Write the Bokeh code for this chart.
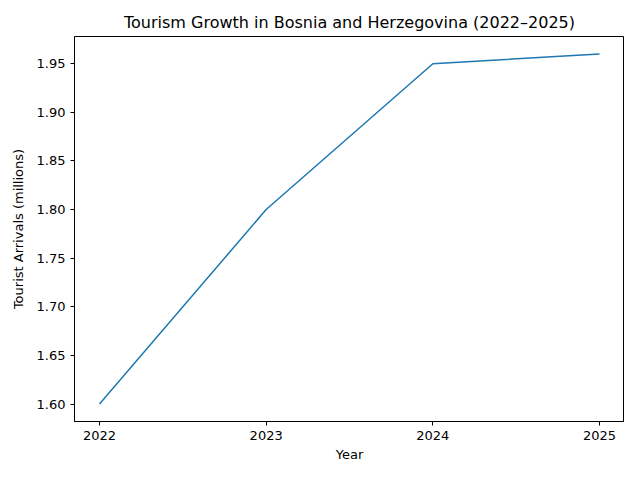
from bokeh.plotting import figure
from bokeh.models import FixedTicker, NumeralTickFormatter, Range1d
from bokeh.embed import file_html
from bokeh.resources import INLINE

years = [2022, 2023, 2024, 2025]
arrivals = [1.60, 1.80, 1.95, 1.96]
y_ticks = [1.60, 1.65, 1.70, 1.75, 1.80, 1.85, 1.90, 1.95]

p = figure(width=624, height=464, output_backend="svg", toolbar_location=None,
           title="Tourism Growth in Bosnia and Herzegovina (2022–2025)",
           x_range=Range1d(2021.85, 2025.15), y_range=Range1d(1.582, 1.978),
           min_border_left=74, min_border_right=0, min_border_top=36, min_border_bottom=42)

p.line(years, arrivals, line_color="#1f77b4", line_width=1.5)

p.title.align = "center"
p.title.text_font = "DejaVu Sans"
p.title.text_font_size = "16px"
p.title.text_font_style = "normal"
p.title.text_color = "black"
p.title.offset = 0

p.xgrid.visible = False
p.ygrid.visible = False
p.outline_line_color = "black"
p.outline_line_width = 1
p.outline_line_alpha = 1

for ax in (p.xaxis[0], p.yaxis[0]):
    ax.axis_line_color = "black"
    ax.major_tick_line_color = "black"
    ax.major_tick_out = 4
    ax.major_tick_in = 0
    ax.minor_tick_line_color = None
    ax.major_label_text_font = "DejaVu Sans"
    ax.major_label_text_font_size = "13px"
    ax.major_label_text_color = "black"
    ax.axis_label_text_font = "DejaVu Sans"
    ax.axis_label_text_font_size = "13px"
    ax.axis_label_text_font_style = "normal"
    ax.axis_label_text_color = "black"

p.xaxis[0].ticker = FixedTicker(ticks=years)
p.xaxis[0].axis_label = "Year"
p.xaxis[0].axis_label_standoff = 4
p.yaxis[0].ticker = FixedTicker(ticks=y_ticks)
p.yaxis[0].formatter = NumeralTickFormatter(format="0.00")
p.yaxis[0].axis_label = "Tourist Arrivals (millions)"
p.yaxis[0].axis_label_standoff = 8

open("out.html", "w").write(file_html(p, INLINE))
